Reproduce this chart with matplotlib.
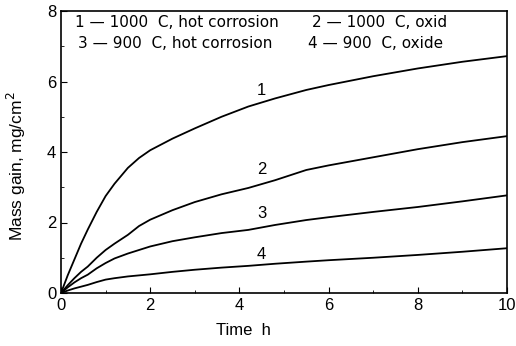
import matplotlib
matplotlib.use("Agg")
import matplotlib.pyplot as plt
from matplotlib.ticker import MultipleLocator

plt.rcParams['font.family'] = ['Liberation Sans', 'DejaVu Sans']

time_h = [0, 0.15, 0.3, 0.45, 0.6, 0.8, 1.0, 1.2, 1.5, 1.75, 2.0, 2.5, 3.0, 3.6,
          4.2, 4.8, 5.5, 6.0, 7.0, 8.0, 9.0, 10.0]
curve1 = [0, 0.5, 0.95, 1.4, 1.8, 2.3, 2.75, 3.1, 3.55, 3.83, 4.05, 4.38, 4.67, 5.0,
          5.29, 5.52, 5.76, 5.9, 6.15, 6.37, 6.56, 6.72]
curve2 = [0, 0.22, 0.42, 0.6, 0.75, 1.0, 1.22, 1.4, 1.65, 1.9, 2.08, 2.35, 2.58, 2.8,
          2.98, 3.2, 3.49, 3.62, 3.85, 4.08, 4.28, 4.45]
curve3 = [0, 0.16, 0.3, 0.42, 0.52, 0.7, 0.85, 0.98, 1.12, 1.22, 1.32, 1.47, 1.58, 1.7,
          1.79, 1.93, 2.07, 2.15, 2.3, 2.44, 2.6, 2.77]
curve4 = [0, 0.07, 0.13, 0.18, 0.23, 0.31, 0.38, 0.42, 0.47, 0.5, 0.53, 0.6, 0.66, 0.72,
          0.77, 0.83, 0.89, 0.93, 1.0, 1.08, 1.17, 1.27]
series = [curve1, curve2, curve3, curve4]
curve_labels = ["1", "2", "3", "4"]
label_pos = [(4.5, 5.75), (4.5, 3.5), (4.5, 2.26), (4.5, 1.1)]
legend_entries = ["1 — 1000  C, hot corrosion", "2 — 1000  C, oxid",
                  "3 — 900  C, hot corrosion", "4 — 900  C, oxide"]
legend_xy = [(0.032, 0.958), (0.563, 0.958), (0.038, 0.885), (0.554, 0.885)]

fig = plt.figure(figsize=(5.16, 3.46), dpi=100)
ax = fig.add_axes([61/516, 1-293/346, (507-61)/516, (293-11)/346])

for ys in series:
    ax.plot(time_h, ys, color='black', lw=1.3)

for lab, (x, y) in zip(curve_labels, label_pos):
    ax.text(x, y, lab, fontsize=12, ha='center', va='center')

for txt, (x, y) in zip(legend_entries, legend_xy):
    ax.text(x, y, txt, transform=ax.transAxes, fontsize=11, va='center', ha='left',
            family=['DejaVu Sans'])

ax.set_xlim(0, 10)
ax.set_ylim(0, 8)
ax.xaxis.set_major_locator(MultipleLocator(2))
ax.xaxis.set_minor_locator(MultipleLocator(1))
ax.yaxis.set_major_locator(MultipleLocator(2))
ax.yaxis.set_minor_locator(MultipleLocator(1))
ax.tick_params(which='both', direction='in', top=False, right=False, labelsize=12)
ax.tick_params(which='major', length=4)
ax.tick_params(which='minor', length=2.5)
for s in ax.spines.values():
    s.set_linewidth(1.2)

ax.set_xlabel("Time  h", fontsize=12)
ax.xaxis.set_label_coords(0.41, -0.105)
ax.set_ylabel("Mass gain, mg/cm$^2$", fontsize=12.5)
ax.yaxis.set_label_coords(-0.074, 0.45)

fig.savefig("out.png", dpi=100)
